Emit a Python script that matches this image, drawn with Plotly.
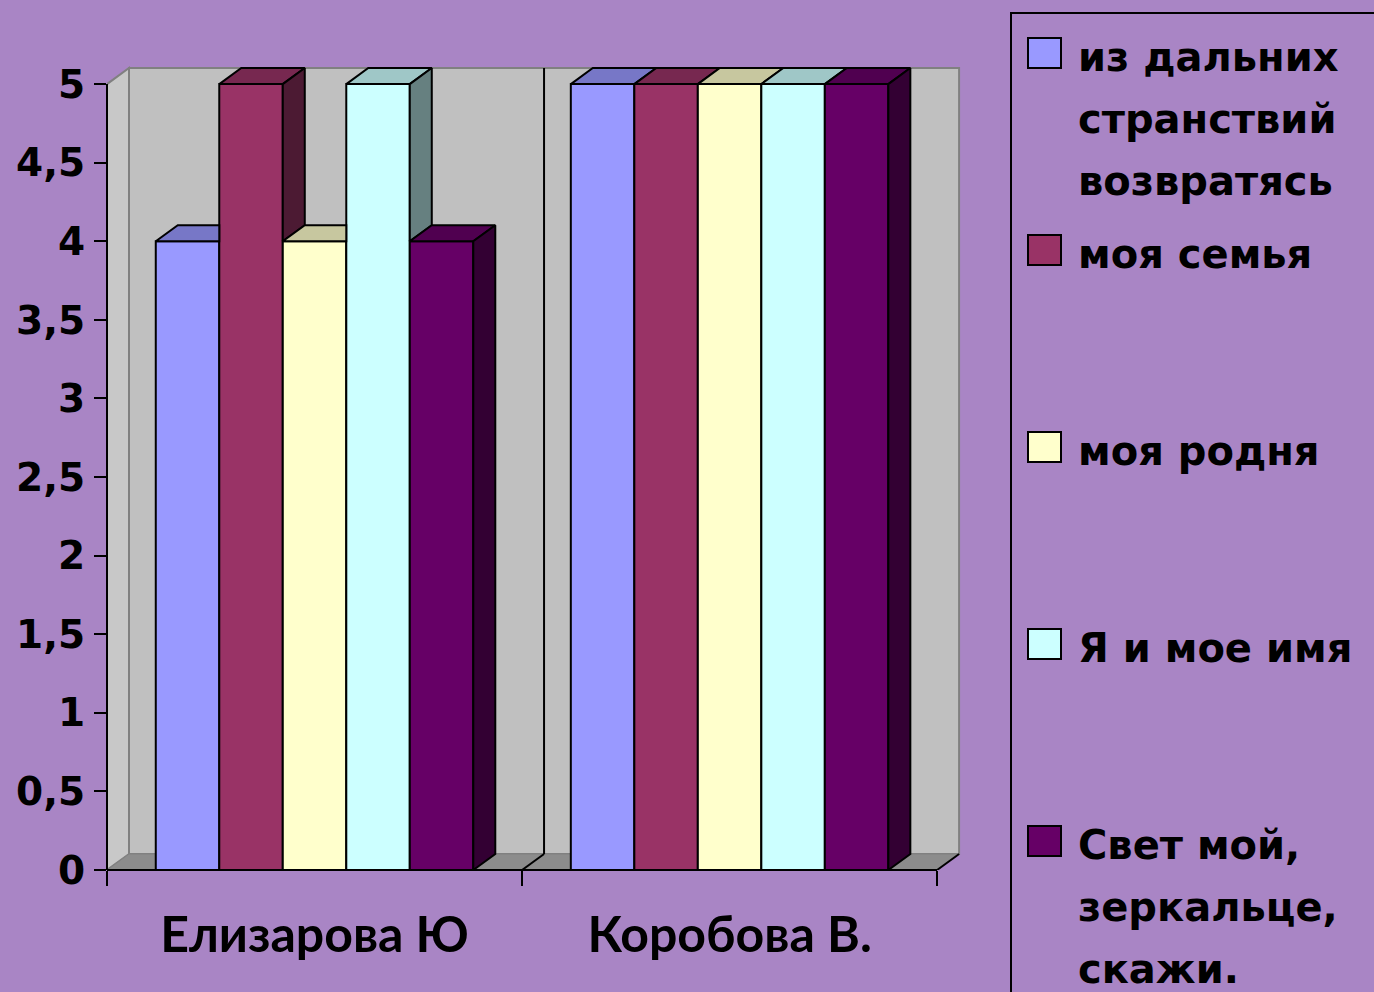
import plotly.graph_objects as go

# ---------------- data ----------------
categories = ["Елизарова Ю", "Коробова В."]
series_names = [
    "из дальних\nстранствий\nвозвратясь",
    "моя семья",
    "моя родня",
    "Я и мое имя",
    "Свет мой,\nзеркальце,\nскажи.",
]
s_far_travels = [4, 5]
s_my_family = [5, 5]
s_my_kin = [4, 5]
s_me_and_name = [5, 5]
s_mirror = [4, 5]
series_values = [s_far_travels, s_my_family, s_my_kin, s_me_and_name, s_mirror]
series_colors = ["#9999FF", "#993366", "#FFFFCC", "#CCFFFF", "#660066"]
y_ticks = [0, 0.5, 1, 1.5, 2, 2.5, 3, 3.5, 4, 4.5, 5]
y_tick_labels = ["0", "0,5", "1", "1,5", "2", "2,5", "3", "3,5", "4", "4,5", "5"]

# ---------------- geometry / style ----------------
W, H = 1374, 992
ML, MR, MT, MB = 107, 412, 66, 122
PW, PH = W - ML - MR, H - MT - MB
X_LO, X_HI = -0.5, 1.56
Y_LO, Y_HI = 0.0, 5.115
BW = 0.153     # bar width (x units)
DX = 0.053     # depth offset in x
DY = 0.102     # depth offset in y
Y_MAX = 5
BG = "#A985C5"


def shade(hexcol, f):
    h = hexcol.lstrip("#")
    r, g, b = (int(h[i:i + 2], 16) for i in (0, 2, 4))
    return "rgb(%d,%d,%d)" % (round(r * f), round(g * f), round(b * f))


def px2paper_x(px):
    return (px - ML) / PW


def px2paper_y(py):
    return (H - MB - py) / PH


def dx2paper(x):
    return (x - X_LO) / (X_HI - X_LO)


def dy2paper(y):
    return (y - Y_LO) / (Y_HI - Y_LO)


fig = go.Figure()
n = len(series_values)

# front faces as bars
for j in range(n):
    xs = [g + (j - n / 2) * BW + BW / 2 for g in range(len(categories))]
    fig.add_trace(go.Bar(
        x=xs, y=series_values[j], width=BW, name=series_names[j].replace("\n", " "),
        marker=dict(color=series_colors[j], line=dict(color="black", width=2)),
        showlegend=False, hoverinfo="skip",
    ))

# 3-D top and side faces (computed from values in data coordinates)
for g in range(len(categories)):
    for j in range(n):
        v = series_values[j][g]
        x0 = g + (j - n / 2) * BW
        x1 = x0 + BW
        vn = series_values[j + 1][g] if j + 1 < n else None
        col = series_colors[j]
        if vn is not None and vn > v:
            tx = [x0, x0 + DX, x1, x1, x0]
            ty = [v, v + DY, v + DY, v, v]
        else:
            tx = [x0, x0 + DX, x1 + DX, x1, x0]
            ty = [v, v + DY, v + DY, v, v]
        fig.add_trace(go.Scatter(x=tx, y=ty, mode="lines", fill="toself",
                                 fillcolor=shade(col, 0.78),
                                 line=dict(color="black", width=2),
                                 showlegend=False, hoverinfo="skip"))
        side = None
        if vn is None:
            side = ([x1, x1 + DX, x1 + DX, x1, x1], [0, DY, v + DY, v, 0])
        elif vn < v:
            side = ([x1, x1 + DX, x1 + DX, x1, x1], [vn, vn + DY, v + DY, v, vn])
        if side:
            fig.add_trace(go.Scatter(x=side[0], y=side[1], mode="lines", fill="toself",
                                     fillcolor=shade(col, 0.5),
                                     line=dict(color="black", width=2),
                                     showlegend=False, hoverinfo="skip"))

shapes = []
# back wall
shapes.append(dict(type="rect", xref="x", yref="y", x0=X_LO + DX, x1=1.5 + DX, y0=DY, y1=Y_MAX + DY,
                   fillcolor="#C0C0C0", line=dict(color="#808080", width=2), layer="below"))
# left wall
shapes.append(dict(type="path", xref="x", yref="y",
                   path=f"M {X_LO},0 L {X_LO},{Y_MAX} L {X_LO + DX},{Y_MAX + DY} L {X_LO + DX},{DY} Z",
                   fillcolor="#C8C8C8", line=dict(color="#808080", width=2), layer="below"))
# floor
shapes.append(dict(type="path", xref="x", yref="y",
                   path=f"M {X_LO},0 L 1.5,0 L {1.5 + DX},{DY} L {X_LO + DX},{DY} Z",
                   fillcolor="#8C8C8C", line=dict(color="#808080", width=1), layer="below"))
# category divider on back wall and floor
shapes.append(dict(type="line", xref="x", yref="y", x0=0.5 + DX, x1=0.5 + DX, y0=DY, y1=Y_MAX + DY,
                   line=dict(color="black", width=2), layer="below"))
for xb in [0.5, 1.5]:
    shapes.append(dict(type="line", xref="x", yref="y", x0=xb, x1=xb + DX, y0=0, y1=DY,
                       line=dict(color="black", width=2), layer="below"))
# axis lines
shapes.append(dict(type="line", xref="paper", yref="paper", x0=0, x1=0,
                   y0=dy2paper(0), y1=dy2paper(Y_MAX), line=dict(color="black", width=2)))
shapes.append(dict(type="line", xref="paper", yref="paper", x0=0, x1=dx2paper(1.5),
                   y0=dy2paper(0), y1=dy2paper(0), line=dict(color="black", width=2)))

# manual legend
annotations = []
shapes.append(dict(type="rect", xref="paper", yref="paper",
                   x0=px2paper_x(1011), x1=px2paper_x(1400), y0=px2paper_y(13), y1=px2paper_y(1010),
                   line=dict(color="black", width=2), fillcolor="rgba(0,0,0,0)"))
ITEM_STEP = 197
LINE_STEP = 62
for j, name in enumerate(series_names):
    top = 38 + ITEM_STEP * j
    shapes.append(dict(type="rect", xref="paper", yref="paper",
                       x0=px2paper_x(1028), x1=px2paper_x(1061),
                       y0=px2paper_y(top), y1=px2paper_y(top + 30),
                       fillcolor=series_colors[j], line=dict(color="black", width=2)))
    for k, line in enumerate(name.split("\n")):
        cy = 57 + ITEM_STEP * j + LINE_STEP * k
        annotations.append(dict(xref="paper", yref="paper", x=px2paper_x(1076), y=px2paper_y(cy),
                                xanchor="left", yanchor="middle", text=line, showarrow=False,
                                font=dict(family="DejaVu Sans", size=40, color="black", weight="bold")))

fig.update_layout(
    width=W, height=H, autosize=False,
    margin=dict(l=ML, r=MR, t=MT, b=MB, pad=0),
    paper_bgcolor=BG, plot_bgcolor=BG,
    barmode="overlay",
    showlegend=False,
    shapes=shapes, annotations=annotations,
    xaxis=dict(range=[X_LO, X_HI], tickvals=[0, 1], ticktext=categories, ticks="",
               showgrid=False, zeroline=False, showline=False, fixedrange=True,
               tickfont=dict(family="Lato", size=50, color="black", weight="bold"),
               ticklabelstandoff=31,
               minor=dict(tickvals=[-0.5, 0.5, 1.5], ticks="outside", ticklen=15,
                          tickwidth=2, tickcolor="black", showgrid=False)),
    yaxis=dict(range=[Y_LO, Y_HI], tickvals=y_ticks, ticktext=y_tick_labels,
               ticks="outside", ticklen=12, tickwidth=2, tickcolor="black",
               showgrid=False, zeroline=False, showline=False, fixedrange=True,
               tickfont=dict(family="DejaVu Sans", size=39, color="black", weight="bold"),
               ticklabelstandoff=1),
)

fig.write_html("out.html", config={"displayModeBar": False},
               post_script="document.body.style.margin='0';document.body.style.overflow='hidden';")
